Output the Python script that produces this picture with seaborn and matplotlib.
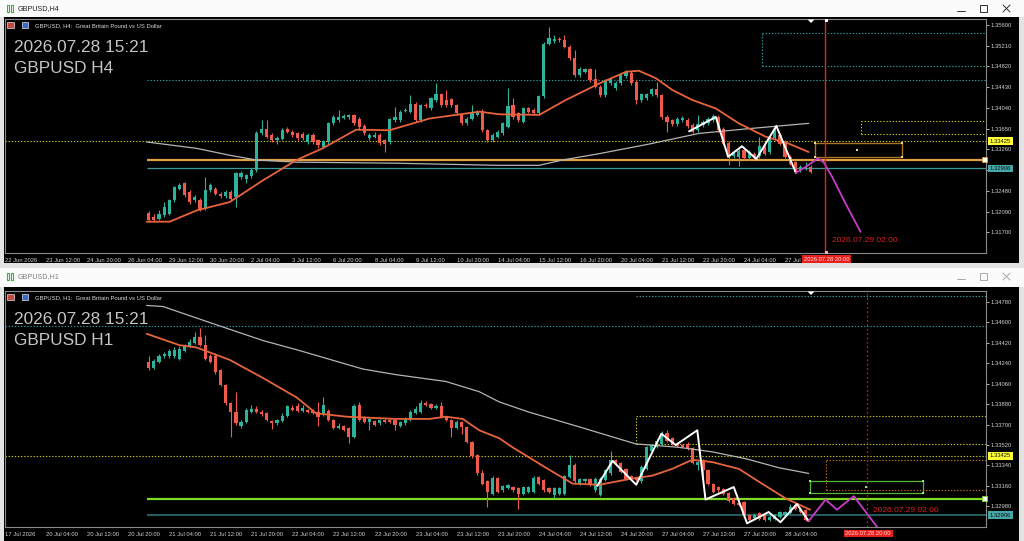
import numpy as np
import matplotlib
matplotlib.use("Agg")
import matplotlib.pyplot as plt
from matplotlib.patches import Rectangle, Polygon
import seaborn as sns

# --- H4 candles (first bar sits at bar index 28) ---
h4_first = 28
h4_open = [1.3206, 1.3199, 1.3196, 1.3202, 1.3205, 1.3230, 1.3252, 1.3262, 1.3246, 1.3230,
           1.3230, 1.3215, 1.3249, 1.3252, 1.3243, 1.3238, 1.3246, 1.3237, 1.3274, 1.3271,
           1.3276, 1.3287, 1.3356, 1.3365, 1.3353, 1.3343, 1.3346, 1.3365, 1.3359, 1.3356,
           1.3355, 1.3340, 1.3353, 1.3343, 1.3331, 1.3340, 1.3375, 1.3381, 1.3386, 1.3387,
           1.3390, 1.3384, 1.3370, 1.3347, 1.3350, 1.3353, 1.3343, 1.3340, 1.3381, 1.3381,
           1.3399, 1.3397, 1.3412, 1.3381, 1.3410, 1.3403, 1.3419, 1.3430, 1.3419, 1.3420,
           1.3409, 1.3390, 1.3375, 1.3384, 1.3391, 1.3399, 1.3362, 1.3343, 1.3350, 1.3356,
           1.3369, 1.3409, 1.3394, 1.3378, 1.3403, 1.3401, 1.3394, 1.3426, 1.3525, 1.3529,
           1.3533, 1.3532, 1.3519, 1.3497, 1.3466, 1.3472, 1.3477, 1.3458, 1.3444, 1.3428,
           1.3450, 1.3441, 1.3450, 1.3464, 1.3470, 1.3453, 1.3419, 1.3422, 1.3430, 1.3439,
           1.3428, 1.3387, 1.3381, 1.3373, 1.3381, 1.3382, 1.3372, 1.3362, 1.3372, 1.3375,
           1.3381, 1.3387, 1.3365, 1.3338, 1.3313, 1.3312, 1.3324, 1.3309, 1.3318, 1.3313,
           1.3331, 1.3321, 1.3347, 1.3353, 1.3340, 1.3312, 1.3302, 1.3287, 1.3290, 1.3293]
h4_close = [1.3193, 1.3193, 1.3205, 1.3218, 1.3230, 1.3255, 1.3259, 1.3240, 1.3227, 1.3237,
            1.3213, 1.3249, 1.3259, 1.3243, 1.3238, 1.3246, 1.3233, 1.3281, 1.3281, 1.3277,
            1.3288, 1.3357, 1.3365, 1.3350, 1.3343, 1.3348, 1.3363, 1.3359, 1.3353, 1.3347,
            1.3347, 1.3353, 1.3340, 1.3334, 1.3341, 1.3375, 1.3387, 1.3387, 1.3389, 1.3390,
            1.3375, 1.3368, 1.3356, 1.3353, 1.3353, 1.3338, 1.3337, 1.3383, 1.3387, 1.3397,
            1.3401, 1.3412, 1.3381, 1.3409, 1.3407, 1.3422, 1.3430, 1.3409, 1.3409, 1.3409,
            1.3394, 1.3375, 1.3384, 1.3394, 1.3397, 1.3362, 1.3343, 1.3353, 1.3359, 1.3375,
            1.3407, 1.3387, 1.3381, 1.3403, 1.3397, 1.3394, 1.3426, 1.3525, 1.3535, 1.3533,
            1.3531, 1.3519, 1.3497, 1.3466, 1.3478, 1.3477, 1.3456, 1.3444, 1.3428, 1.3456,
            1.3458, 1.3451, 1.3466, 1.3472, 1.3451, 1.3419, 1.3430, 1.3430, 1.3439, 1.3428,
            1.3387, 1.3378, 1.3373, 1.3384, 1.3385, 1.3370, 1.3359, 1.3373, 1.3378, 1.3384,
            1.3389, 1.3362, 1.3337, 1.3315, 1.3321, 1.3323, 1.3309, 1.3321, 1.3309, 1.3332,
            1.3318, 1.3350, 1.3365, 1.3337, 1.3312, 1.3299, 1.3284, 1.3293, 1.3293, 1.3284]
h4_high = [1.3210, 1.3204, 1.3212, 1.3227, 1.3233, 1.3258, 1.3262, 1.3264, 1.3249, 1.3240,
           1.3234, 1.3274, 1.3262, 1.3256, 1.3246, 1.3250, 1.3250, 1.3284, 1.3285, 1.3280,
           1.3291, 1.3360, 1.3381, 1.3381, 1.3356, 1.3352, 1.3366, 1.3368, 1.3362, 1.3359,
           1.3358, 1.3356, 1.3356, 1.3346, 1.3344, 1.3378, 1.3390, 1.3400, 1.3392, 1.3393,
           1.3393, 1.3387, 1.3373, 1.3356, 1.3359, 1.3356, 1.3346, 1.3386, 1.3406, 1.3400,
           1.3404, 1.3428, 1.3415, 1.3412, 1.3413, 1.3425, 1.3451, 1.3433, 1.3438, 1.3423,
           1.3412, 1.3393, 1.3387, 1.3409, 1.3400, 1.3402, 1.3365, 1.3356, 1.3362, 1.3378,
           1.3441, 1.3422, 1.3397, 1.3406, 1.3406, 1.3404, 1.3429, 1.3528, 1.3557, 1.3541,
           1.3538, 1.3541, 1.3522, 1.3513, 1.3481, 1.3480, 1.3480, 1.3478, 1.3447, 1.3459,
           1.3461, 1.3454, 1.3469, 1.3475, 1.3473, 1.3456, 1.3433, 1.3433, 1.3442, 1.3453,
           1.3431, 1.3390, 1.3384, 1.3387, 1.3388, 1.3385, 1.3375, 1.3390, 1.3381, 1.3387,
           1.3392, 1.3390, 1.3368, 1.3341, 1.3324, 1.3326, 1.3327, 1.3324, 1.3321, 1.3350,
           1.3334, 1.3353, 1.3368, 1.3356, 1.3343, 1.3315, 1.3305, 1.3296, 1.3302, 1.3296]
h4_low = [1.3190, 1.3189, 1.3193, 1.3199, 1.3202, 1.3227, 1.3249, 1.3237, 1.3224, 1.3227,
          1.3210, 1.3212, 1.3246, 1.3240, 1.3235, 1.3235, 1.3230, 1.3218, 1.3271, 1.3262,
          1.3273, 1.3284, 1.3353, 1.3347, 1.3340, 1.3337, 1.3343, 1.3356, 1.3350, 1.3344,
          1.3344, 1.3337, 1.3337, 1.3328, 1.3328, 1.3337, 1.3372, 1.3378, 1.3383, 1.3384,
          1.3372, 1.3365, 1.3353, 1.3344, 1.3347, 1.3335, 1.3321, 1.3337, 1.3378, 1.3378,
          1.3396, 1.3394, 1.3378, 1.3378, 1.3404, 1.3400, 1.3416, 1.3406, 1.3406, 1.3406,
          1.3391, 1.3372, 1.3372, 1.3381, 1.3388, 1.3359, 1.3340, 1.3340, 1.3347, 1.3353,
          1.3366, 1.3384, 1.3378, 1.3375, 1.3394, 1.3391, 1.3391, 1.3423, 1.3522, 1.3526,
          1.3528, 1.3516, 1.3494, 1.3463, 1.3463, 1.3469, 1.3453, 1.3441, 1.3425, 1.3425,
          1.3447, 1.3438, 1.3447, 1.3461, 1.3448, 1.3412, 1.3416, 1.3419, 1.3427, 1.3425,
          1.3384, 1.3359, 1.3370, 1.3370, 1.3378, 1.3367, 1.3356, 1.3359, 1.3369, 1.3372,
          1.3378, 1.3359, 1.3334, 1.3296, 1.3310, 1.3294, 1.3306, 1.3306, 1.3306, 1.3310,
          1.3315, 1.3318, 1.3344, 1.3334, 1.3309, 1.3296, 1.3281, 1.3284, 1.3287, 1.3281]

# H4 indicator lines (bar index, price)
h4_ma_x = [27.6, 32.1, 37.3, 43.8, 50.3, 56.8, 61.9, 68.4, 74.9, 82.7, 92.4, 96.3, 104.1,
           109.3, 115.8, 121.0, 123.5, 126.8, 130.0, 133.9, 138.5, 143.0, 148.2, 152.7, 156.6]
h4_ma_y = [1.3190, 1.3190, 1.3211, 1.3227, 1.3268, 1.3306, 1.3328, 1.3363, 1.3362, 1.3384,
           1.3397, 1.3392, 1.3391, 1.3419, 1.3450, 1.3472, 1.3474, 1.3460, 1.3438, 1.3419,
           1.3403, 1.3375, 1.3350, 1.3337, 1.3321]
h4_slow_x = [27.6, 37.3, 43.8, 49.0, 56.8, 76.2, 96.3, 104.1, 108.6, 115.8, 125.5, 135.2, 144.9, 156.6]
h4_slow_y = [1.3340, 1.3328, 1.3315, 1.3306, 1.3302, 1.3300, 1.3296, 1.3296, 1.3306, 1.3318,
             1.3336, 1.3356, 1.3365, 1.3375]
h4_zz_x = [133.3, 138.5, 140.9, 143.6, 146.4, 150.3, 154.1]
h4_zz_y = [1.3360, 1.3387, 1.3312, 1.3332, 1.3308, 1.3370, 1.3282]
h4_proj_x = [154.1, 156.0, 158.4, 159.5, 161.2, 163.8, 166.7]
h4_proj_y = [1.3282, 1.3293, 1.3309, 1.3302, 1.3274, 1.3224, 1.3171]

h4_ticks = [1.35600, 1.35210, 1.34820, 1.34430, 1.34040, 1.33650, 1.33260, 1.32870,
            1.32480, 1.32090, 1.31700]
h4_xlabels = ["22 Jun 2026", "23 Jun 12:00", "24 Jun 20:00", "26 Jun 04:00", "29 Jun 12:00",
              "30 Jun 20:00", "2 Jul 04:00", "3 Jul 12:00", "6 Jul 20:00", "8 Jul 04:00",
              "9 Jul 12:00", "10 Jul 20:00", "14 Jul 04:00", "15 Jul 12:00", "16 Jul 20:00",
              "20 Jul 04:00", "21 Jul 12:00", "22 Jul 20:00", "24 Jul 04:00", "27 Jul"]

# --- H1 candles ---
h1_first = 28
h1_open = [1.3425, 1.3420, 1.3425, 1.3430, 1.3430, 1.3430, 1.3428, 1.3435, 1.3439, 1.3442,
           1.3447, 1.3440, 1.3430, 1.3430, 1.3418, 1.3405, 1.3389, 1.3381, 1.3369, 1.3372,
           1.3381, 1.3384, 1.3381, 1.3380, 1.3373, 1.3371, 1.3373, 1.3378, 1.3385, 1.3386,
           1.3382, 1.3383, 1.3382, 1.3381, 1.3379, 1.3382, 1.3374, 1.3367, 1.3369, 1.3367,
           1.3359, 1.3387, 1.3377, 1.3372, 1.3373, 1.3371, 1.3374, 1.3374, 1.3374, 1.3369,
           1.3371, 1.3374, 1.3380, 1.3381, 1.3389, 1.3388, 1.3385, 1.3386, 1.3377, 1.3374,
           1.3367, 1.3372, 1.3368, 1.3355, 1.3343, 1.3327, 1.3320, 1.3309, 1.3323, 1.3312,
           1.3314, 1.3315, 1.3314, 1.3309, 1.3311, 1.3311, 1.3324, 1.3321, 1.3314, 1.3308,
           1.3309, 1.3309, 1.3324, 1.3334, 1.3318, 1.3320, 1.3322, 1.3312, 1.3308, 1.3321,
           1.3327, 1.3339, 1.3336, 1.3331, 1.3325, 1.3324, 1.3320, 1.3331, 1.3347, 1.3350,
           1.3353, 1.3363, 1.3358, 1.3354, 1.3352, 1.3353, 1.3349, 1.3334, 1.3339, 1.3330,
           1.3318, 1.3315, 1.3313, 1.3310, 1.3305, 1.3301, 1.3302, 1.3290, 1.3288, 1.3292,
           1.3290, 1.3286, 1.3287, 1.3289, 1.3290, 1.3292, 1.3299, 1.3296, 1.3295]
h1_close = [1.3420, 1.3426, 1.3430, 1.3432, 1.3435, 1.3436, 1.3437, 1.3439, 1.3443, 1.3447,
            1.3440, 1.3428, 1.3425, 1.3416, 1.3405, 1.3389, 1.3381, 1.3371, 1.3372, 1.3383,
            1.3384, 1.3381, 1.3379, 1.3374, 1.3371, 1.3374, 1.3378, 1.3386, 1.3383, 1.3382,
            1.3385, 1.3381, 1.3380, 1.3377, 1.3387, 1.3374, 1.3367, 1.3369, 1.3365, 1.3359,
            1.3386, 1.3374, 1.3372, 1.3375, 1.3370, 1.3374, 1.3372, 1.3372, 1.3370, 1.3372,
            1.3375, 1.3381, 1.3384, 1.3389, 1.3387, 1.3385, 1.3386, 1.3377, 1.3374, 1.3367,
            1.3372, 1.3368, 1.3355, 1.3342, 1.3327, 1.3318, 1.3311, 1.3323, 1.3311, 1.3316,
            1.3317, 1.3312, 1.3309, 1.3315, 1.3315, 1.3323, 1.3318, 1.3312, 1.3311, 1.3314,
            1.3314, 1.3325, 1.3334, 1.3320, 1.3322, 1.3322, 1.3317, 1.3322, 1.3322, 1.3330,
            1.3339, 1.3336, 1.3328, 1.3322, 1.3322, 1.3321, 1.3333, 1.3350, 1.3352, 1.3356,
            1.3362, 1.3356, 1.3353, 1.3351, 1.3350, 1.3349, 1.3336, 1.3337, 1.3330, 1.3318,
            1.3311, 1.3312, 1.3309, 1.3303, 1.3300, 1.3299, 1.3290, 1.3286, 1.3290, 1.3287,
            1.3286, 1.3289, 1.3290, 1.3293, 1.3293, 1.3297, 1.3296, 1.3293, 1.3286]
h1_high = [1.3430, 1.3428, 1.3432, 1.3434, 1.3437, 1.3438, 1.3439, 1.3441, 1.3445, 1.3452,
           1.3455, 1.3449, 1.3432, 1.3433, 1.3419, 1.3406, 1.3390, 1.3399, 1.3374, 1.3385,
           1.3387, 1.3386, 1.3383, 1.3381, 1.3374, 1.3375, 1.3380, 1.3387, 1.3387, 1.3389,
           1.3387, 1.3384, 1.3384, 1.3390, 1.3394, 1.3384, 1.3375, 1.3371, 1.3370, 1.3368,
           1.3388, 1.3390, 1.3378, 1.3377, 1.3374, 1.3375, 1.3375, 1.3376, 1.3375, 1.3373,
           1.3377, 1.3383, 1.3386, 1.3392, 1.3391, 1.3389, 1.3388, 1.3390, 1.3378, 1.3375,
           1.3374, 1.3373, 1.3369, 1.3356, 1.3344, 1.3330, 1.3321, 1.3325, 1.3324, 1.3317,
           1.3318, 1.3316, 1.3315, 1.3316, 1.3316, 1.3325, 1.3325, 1.3322, 1.3315, 1.3315,
           1.3315, 1.3326, 1.3343, 1.3336, 1.3323, 1.3323, 1.3323, 1.3324, 1.3324, 1.3331,
           1.3347, 1.3340, 1.3337, 1.3332, 1.3326, 1.3325, 1.3334, 1.3351, 1.3353, 1.3357,
           1.3364, 1.3365, 1.3359, 1.3355, 1.3353, 1.3355, 1.3350, 1.3338, 1.3340, 1.3331,
           1.3319, 1.3316, 1.3314, 1.3311, 1.3306, 1.3302, 1.3303, 1.3291, 1.3292, 1.3293,
           1.3291, 1.3290, 1.3291, 1.3294, 1.3294, 1.3300, 1.3300, 1.3297, 1.3296]
h1_low = [1.3418, 1.3419, 1.3424, 1.3429, 1.3429, 1.3429, 1.3427, 1.3434, 1.3438, 1.3441,
          1.3439, 1.3427, 1.3424, 1.3415, 1.3404, 1.3387, 1.3359, 1.3370, 1.3367, 1.3371,
          1.3380, 1.3380, 1.3378, 1.3373, 1.3366, 1.3370, 1.3372, 1.3377, 1.3382, 1.3381,
          1.3381, 1.3380, 1.3379, 1.3369, 1.3378, 1.3373, 1.3366, 1.3366, 1.3364, 1.3354,
          1.3358, 1.3373, 1.3371, 1.3365, 1.3369, 1.3370, 1.3371, 1.3371, 1.3365, 1.3368,
          1.3370, 1.3373, 1.3379, 1.3380, 1.3386, 1.3384, 1.3384, 1.3376, 1.3373, 1.3359,
          1.3366, 1.3362, 1.3354, 1.3341, 1.3326, 1.3317, 1.3297, 1.3308, 1.3310, 1.3311,
          1.3313, 1.3311, 1.3296, 1.3308, 1.3310, 1.3310, 1.3317, 1.3311, 1.3310, 1.3305,
          1.3308, 1.3308, 1.3323, 1.3319, 1.3317, 1.3319, 1.3316, 1.3311, 1.3307, 1.3320,
          1.3326, 1.3335, 1.3327, 1.3321, 1.3321, 1.3320, 1.3319, 1.3330, 1.3346, 1.3349,
          1.3352, 1.3355, 1.3352, 1.3350, 1.3349, 1.3348, 1.3335, 1.3330, 1.3321, 1.3317,
          1.3310, 1.3311, 1.3308, 1.3302, 1.3299, 1.3298, 1.3289, 1.3285, 1.3287, 1.3286,
          1.3285, 1.3285, 1.3286, 1.3288, 1.3289, 1.3291, 1.3295, 1.3292, 1.3285]

h1_ma_x = [27.6, 34.0, 37.3, 43.8, 50.3, 56.8, 60.6, 66.5, 76.2, 82.7, 85.9, 89.2, 92.4, 96.3,
           98.9, 105.4, 110.6, 115.8, 121.6, 126.1, 130.0, 133.9, 137.8, 143.0, 147.5, 152.1, 156.9]
h1_ma_y = [1.3450, 1.3440, 1.3438, 1.3427, 1.3411, 1.3394, 1.3380, 1.3377, 1.3375, 1.3375,
           1.3377, 1.3375, 1.3365, 1.3358, 1.3350, 1.3332, 1.3318, 1.3317, 1.3322, 1.3325,
           1.3331, 1.3339, 1.3337, 1.3331, 1.3318, 1.3305, 1.3295]
h1_slow_x = [27.6, 30.8, 40.5, 50.3, 56.8, 69.7, 76.2, 85.9, 92.4, 96.3, 102.1, 111.9, 122.9,
             131.3, 137.8, 144.3, 150.8, 156.6]
h1_slow_y = [1.3475, 1.3474, 1.3459, 1.3444, 1.3436, 1.3419, 1.3414, 1.3408, 1.3399, 1.3390,
             1.3381, 1.3368, 1.3353, 1.3350, 1.3346, 1.3340, 1.3332, 1.3327]
h1_zz_x = [115.4, 118.4, 123.0, 127.9, 130.7, 134.9, 136.5, 142.0, 144.6, 148.8, 151.1, 154.3, 156.6]
h1_zz_y = [1.3316, 1.3338, 1.3317, 1.3362, 1.3352, 1.3365, 1.3304, 1.3315, 1.3283, 1.3293,
           1.3284, 1.3300, 1.3285]
h1_proj_x = [156.6, 159.9, 162.1, 165.4, 169.9, 171.0]
h1_proj_y = [1.3285, 1.3304, 1.3295, 1.3307, 1.3280, 1.3275]

h1_ticks = [1.34780, 1.34600, 1.34420, 1.34240, 1.34060, 1.33880, 1.33700, 1.33520,
            1.33340, 1.33160, 1.32980]
h1_xlabels = ["17 Jul 2026", "20 Jul 04:00", "20 Jul 12:00", "20 Jul 20:00", "21 Jul 04:00",
              "21 Jul 12:00", "21 Jul 20:00", "22 Jul 04:00", "22 Jul 12:00", "22 Jul 20:00",
              "23 Jul 04:00", "23 Jul 12:00", "23 Jul 20:00", "24 Jul 04:00", "24 Jul 12:00",
              "24 Jul 20:00", "27 Jul 04:00", "27 Jul 12:00", "27 Jul 20:00", "28 Jul 04:00"]

bid_price = 1.33425
ask_line = 1.32906

# ---------------------------------------------------------------
W, H = 1024, 541
BAR_PX = 5.132
X_END = (986 - 5) / BAR_PX

BULL, BEAR = "#2db39c", "#ef5a4c"
MA_COL, SLOW_COL = "#e8643c", "#b4b4b4"
TEAL, YEL = "#2a9d9d", "#c8c820"
DOT = (0, (1.2, 1.6))

sns.set_theme(style="dark", rc={"axes.facecolor": "black"})
plt.rcParams["font.family"] = ["Liberation Sans", "DejaVu Sans"]

fig = plt.figure(figsize=(W / 100, H / 100), dpi=100)
fig.patch.set_facecolor("#e3e3e3")


def px_rect(x0, y0, x1, y1):
    return [x0 / W, 1 - y1 / H, (x1 - x0) / W, (y1 - y0) / H]


bg = fig.add_axes([0, 0, 1, 1], zorder=0)
bg.set_xlim(0, W)
bg.set_ylim(H, 0)
bg.axis("off")
for (x0, y0, x1, y1, c) in [(0, 0, 1024, 17, "#fbfbfb"), (4, 17, 1019, 263, "black"),
                            (0, 268, 1024, 287, "#fbfbfb"), (4, 287, 1019, 541, "black")]:
    bg.add_patch(Rectangle((x0, y0), x1 - x0, y1 - y0, fc=c, lw=0))


def draw_candles(ax, first, o, h, l, c):
    x = np.arange(first, first + len(o))
    o, h, l, c = map(np.asarray, (o, h, l, c))
    cols = np.where(c >= o, BULL, BEAR)
    ax.vlines(x, l, h, colors=cols, lw=0.8, zorder=3)
    ax.bar(x, np.maximum(np.abs(c - o), 0.00004), bottom=np.minimum(o, c),
           width=0.62, color=cols, lw=0, zorder=4)


def style_axis(ax, ylim, ticks, xlabels):
    ax.set_xlim(0, X_END)
    ax.set_ylim(*ylim)
    ax.yaxis.tick_right()
    ax.set_yticks(ticks)
    ax.set_yticklabels([f"{t:.5f}" for t in ticks])
    ax.set_xticks(np.arange(0, 8 * len(xlabels), 8))
    ax.set_xticklabels(xlabels, ha="left")
    ax.tick_params(axis="both", colors="#d0d0d0", labelsize=4.2, length=2.5, width=0.6,
                   direction="out", pad=0.8)
    ax.grid(False)
    for s in ax.spines.values():
        s.set_color("#8a8a8a")
        s.set_linewidth(0.8)
    ax.set_xlabel("")
    ax.set_ylabel("")


def line(ax, xs, ys, color, lw, z=5):
    sns.lineplot(x=xs, y=ys, ax=ax, color=color, linewidth=lw, estimator=None,
                 sort=False, legend=False, zorder=z)


def dotted_box(ax, x0, y0, y1, color):
    ax.hlines([y0, y1], x0, X_END, colors=color, lw=0.8, linestyles=DOT, zorder=2)
    ax.vlines(x0, y0, y1, colors=color, lw=0.8, linestyles=DOT, zorder=2)


# ---------------- top: H4 ----------------
ax1 = fig.add_axes(px_rect(5, 19, 986, 253), zorder=1)
dotted_box(ax1, 147.5, 1.34828, 1.35449, TEAL)
ax1.hlines(1.34564, 27.6, X_END, colors=TEAL, lw=0.8, linestyles=DOT, zorder=2)
dotted_box(ax1, 166.7, 1.33546, 1.33791, YEL)
ax1.hlines(bid_price, 0, X_END, colors=YEL, lw=0.8, linestyles=DOT, zorder=2)
ax1.hlines(1.33062, 27.6, X_END, colors="#e0a040", lw=1.6, zorder=2)
ax1.hlines(ask_line, 27.6, X_END, colors="#3a9a9a", lw=0.9, zorder=2)
ax1.add_patch(Rectangle((157.8, 1.33119), 16.9, 0.00264, fc="none", ec="#a87520", lw=1.0, zorder=2))
ax1.scatter([157.8, 157.8, 174.7, 174.7, 166.1], [1.33119, 1.33383, 1.33119, 1.33383, 1.33251],
            marker="s", s=4, color="#f5d880", zorder=6, linewidths=0)
draw_candles(ax1, h4_first, h4_open, h4_high, h4_low, h4_close)
line(ax1, h4_slow_x, h4_slow_y, SLOW_COL, 0.9)
line(ax1, h4_ma_x, h4_ma_y, MA_COL, 1.3)
line(ax1, h4_zz_x, h4_zz_y, "white", 1.4, 6)
line(ax1, h4_proj_x, h4_proj_y, "#c83cc8", 1.3, 6)
ax1.axvline(159.7, color="#e82020", lw=1.0, zorder=7)
style_axis(ax1, (1.31311, 1.35713), h4_ticks, h4_xlabels)

# ---------------- bottom: H1 ----------------
ax2 = fig.add_axes(px_rect(5, 291, 986, 527), zorder=1)
ax2.hlines(1.34836, 123.0, X_END, colors=TEAL, lw=0.8, linestyles=DOT, zorder=2)
ax2.hlines(1.34571, 0, X_END, colors=TEAL, lw=0.8, linestyles=DOT, zorder=2)
dotted_box(ax2, 123.0, 1.33527, 1.33780, YEL)
ax2.hlines(bid_price, 0, X_END, colors=YEL, lw=0.8, linestyles=DOT, zorder=2)
dotted_box(ax2, 159.9, 1.33121, 1.33386, "#c07020")
ax2.add_patch(Rectangle((156.9, 1.33098), 22.0, 0.00103, fc="none", ec="#55b535", lw=0.9, zorder=2))
ax2.scatter([156.9, 156.9, 178.9, 178.9, 167.8], [1.33098, 1.33201, 1.33098, 1.33201, 1.33150],
            marker="s", s=4, color="#90f070", zorder=6, linewidths=0)
ax2.hlines(1.33044, 27.6, X_END, colors="#7ddc1f", lw=1.6, zorder=2)
ax2.hlines(ask_line, 27.6, X_END, colors="#2a6f6f", lw=1.2, zorder=2)
draw_candles(ax2, h1_first, h1_open, h1_high, h1_low, h1_close)
line(ax2, h1_slow_x, h1_slow_y, SLOW_COL, 0.9)
line(ax2, h1_ma_x, h1_ma_y, MA_COL, 1.3)
line(ax2, h1_zz_x, h1_zz_y, "white", 1.4, 6)
line(ax2, h1_proj_x, h1_proj_y, "#c83cc8", 1.3, 6)
ax2.axvline(167.9, color="#c02020", lw=0.9, ls=(0, (1.5, 2)), zorder=7)
style_axis(ax2, (1.32798, 1.34877), h1_ticks, h1_xlabels)

# ---------------- overlay: window chrome and labels ----------------
ov = fig.add_axes([0, 0, 1, 1], zorder=10)
ov.set_xlim(0, W)
ov.set_ylim(H, 0)
ov.axis("off")
ov.patch.set_alpha(0)

for y0, title, btn, tcol in [(0, "GBPUSD,H4", "#303030", "#202020"),
                             (268, "GBPUSD,H1", "#a8a8a8", "#808080")]:
    yc = y0 + 8.5
    for bx in (7, 11):
        ov.add_patch(Rectangle((bx, yc - 3.5), 2.2, 7, fc="none", ec="#3cb043", lw=0.8))
    ov.text(18, yc, title, fontsize=5.2, color=tcol, va="center")
    ov.plot([957, 965], [yc + 2.5, yc + 2.5], color=btn, lw=0.7)
    ov.add_patch(Rectangle((980, yc - 3.5), 7, 7, fc="none", ec=btn, lw=0.7))
    ov.plot([1003, 1010], [yc - 3.5, yc + 3.5], color=btn, lw=0.7)
    ov.plot([1003, 1010], [yc + 3.5, yc - 3.5], color=btn, lw=0.7)

for y0, tf in [(0, "H4"), (272, "H1")]:
    ov.add_patch(Rectangle((7, y0 + 22), 7, 6, fc="#c84848", ec="#e0e0e0", lw=0.5))
    ov.add_patch(Rectangle((22, y0 + 22), 6, 6, fc="#3a6ac8", ec="#e0e0e0", lw=0.5))
    ov.text(35, y0 + 25.3, f"GBPUSD, {tf}:  Great Britain Pound vs US Dollar",
            fontsize=4.2, color="#d8d8d8", va="center")
    ov.text(14, y0 + 47.0, "2026.07.28 15:21", fontsize=12.4, color="#c4c4c4", va="center")
    ov.text(14, y0 + 68.5, f"GBPUSD {tf}", fontsize=12.4, color="#c4c4c4", va="center")

# price tags on the right scale
for yc, txt, fc in [(141.0, "1.33425", "#ffff33"), (168.7, "1.32906", "#45a8a8"),
                    (455.7, "1.33425", "#ffff33"), (515.0, "1.32906", "#45a8a8")]:
    ov.add_patch(Rectangle((988, yc - 3.8), 25, 7.6, fc=fc, lw=0))
    ov.text(1000.5, yc + 0.2, txt, fontsize=4.2, color="#101010", ha="center", va="center")

# time tags on the time scale
for xc, yc in [(826.5, 259.2), (868.0, 533.3)]:
    ov.add_patch(Rectangle((xc - 24.5, yc - 3.8), 49, 7.6, fc="#e8201c", lw=0))
    ov.text(xc, yc + 0.2, "2026.07.28 20:00", fontsize=4.2, color="#ffd8d8", ha="center", va="center")

ov.text(832, 241, "2026.07.29 02:00", fontsize=6, color="#e02020", va="center")
ov.text(873, 510, "2026.07.29 02:00", fontsize=6, color="#e02020", va="center")

# drag handles and shift markers
for yc, ec in [(159.8, "#e0a040"), (498.7, "#7ddc1f")]:
    ov.add_patch(Rectangle((981.5, yc - 2.5), 5, 5, fc="white", ec=ec, lw=0.6))
for yt in (19.5, 291.5):
    ov.add_patch(Polygon([[807.5, yt], [814.5, yt], [811, yt + 3.5]], closed=True, fc="white", lw=0))
ov.add_patch(Rectangle((824.5, 19), 3, 3, fc="white", lw=0))
ov.add_patch(Rectangle((824.5, 250.5), 3, 3, fc="#ffb0b0", lw=0))

fig.savefig("out.png", dpi=100, facecolor=fig.get_facecolor())
